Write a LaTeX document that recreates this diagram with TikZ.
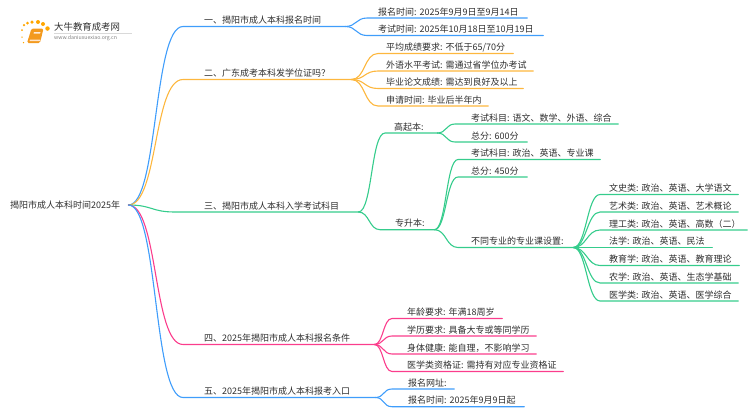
\documentclass[tikz,border=0pt]{standalone}
\usepackage{fontspec}
\setmainfont[WordSpace=0.55]{Noto Sans CJK SC}
\definecolor{bluelink}{HTML}{3F9DFB}
\definecolor{orangelink}{HTML}{FDB73E}
\definecolor{greenlink}{HTML}{35CC8C}
\definecolor{pinklink}{HTML}{FB3D8C}
\definecolor{inktext}{HTML}{2E2E2E}
\definecolor{bookorange}{HTML}{F39A1E}
\tikzset{
    leaf/.style={anchor=south west, inner sep=0pt, align=left, text height=9pt, text depth=2.6pt, text=inktext, font=\fontsize{9}{10}\selectfont\frenchspacing},
    span/.style={text width=#1},
    pad/.style={execute at begin node={\hspace*{#1}}},
    link/.style={draw=#1, line width=1.1pt, line cap=round},
    spot/.style={fill=orange!70!yellow, circle, inner sep=0pt, minimum size=#1},
}
\begin{document}
\begin{tikzpicture}[x=1pt, y=-1pt]
    \useasboundingbox (0,0) rectangle (750,410);

    % logo
    \foreach \px/\py/\ps in {22/37/1.5pt, 23.5/42.5/1.5pt, 22/30/2pt, 24/25/2.5pt, 27.5/23/3pt, 32/22/3.5pt, 38/22/4pt, 43/24/4pt, 47.5/28.5/4.5pt}
        \node[spot=\ps] at (\px,\py) {};
    \fill[bookorange, rounded corners=1.5pt] (31.5,28.5) -- (43.5,28.5) -- (40,43) -- (27,43) -- cycle;
    \fill[white!80!orange] (30,39.5) -- (40.5,39.5) -- (40.2,41) -- (29.6,41) -- cycle;
    \fill[white!85!orange] (34,32) -- (40.5,32) -- (40.1,33.5) -- (33.6,33.5) -- cycle;
    \node[anchor=west, inner sep=0pt, text=inktext, font=\fontsize{9.4}{10}\selectfont] (logotitle) at (54,27) {大牛教育成考网};
    \node[anchor=west, inner sep=0pt, text=gray, font=\fontsize{5.2}{6}\selectfont] (logourl) at (54,38.5) {www.daniuxuexiao.org.cn};
    \draw[black!15, line width=0.5pt] (54,33) -- (132,33);

    % root
    \node[leaf, anchor=west, span=118pt] (root) at (10,205) {揭阳市成人本科时间2025年};

    % first level
    \node[leaf, span=162pt, pad=21pt] (one) at (183,26.5) {一、揭阳市成人本科报名时间};
    \node[leaf, span=168pt, pad=21pt] (two) at (183,79.5) {二、广东成考本科发学位证吗？};
    \node[leaf, span=183pt, pad=29pt] (three) at (175,212) {三、揭阳市成人本科入学考试科目};
    \node[leaf, span=191pt, pad=21pt] (four) at (183,344.5) {四、2025年揭阳市成人本科报名条件};
    \node[leaf, span=192pt, pad=21pt] (five) at (183,397.5) {五、2025年揭阳市成人本科报考入口};

    % one
    \node[leaf, span=160pt, pad=11pt] (onea) at (367,18) {报名时间: 2025年9月9日至9月14日};
    \node[leaf, span=176pt, pad=11pt] (oneb) at (367,35.5) {考试时间: 2025年10月18日至10月19日};

    % two
    \node[leaf, span=135pt, pad=8pt] (twoa) at (378,53.5) {平均成绩要求: 不低于65/70分};
    \node[leaf, span=155pt, pad=8pt] (twob) at (378,71) {外语水平考试: 需通过省学位办考试};
    \node[leaf, span=145pt, pad=8pt] (twoc) at (378,88.5) {毕业论文成绩: 需达到良好及以上};
    \node[leaf, span=110pt, pad=8pt] (twod) at (378,106) {申请时间: 毕业后半年内};

    % three
    \node[leaf, span=52pt, pad=9pt] (high) at (385,133) {高起本:};
    \node[leaf, span=163pt, pad=16pt] (higha) at (455,124) {考试科目: 语文、数学、外语、综合};
    \node[leaf, span=72pt, pad=16pt] (highb) at (455,142) {总分: 600分};
    \node[leaf, span=54pt, pad=15pt] (up) at (380,229.7) {专升本:};
    \node[leaf, span=142pt, pad=13pt] (upa) at (458,159.5) {考试科目: 政治、英语、专业课};
    \node[leaf, span=69pt, pad=13pt] (upb) at (458,177) {总分: 450分};
    \node[leaf, span=115pt, pad=13pt] (upc) at (458,247.5) {不同专业的专业课设置:};

    \node[leaf, span=138pt, pad=9pt] (suba) at (600,194.5) {文史类: 政治、英语、大学语文};
    \node[leaf, span=138pt, pad=9pt] (subb) at (600,212) {艺术类: 政治、英语、艺术概论};
    \node[leaf, span=147pt, pad=9pt] (subc) at (600,230) {理工类: 政治、英语、高数（二）};
    \node[leaf, span=112pt, pad=9pt] (subd) at (600,247.5) {法学: 政治、英语、民法};
    \node[leaf, span=139pt, pad=9pt] (sube) at (600,265.5) {教育学: 政治、英语、教育理论};
    \node[leaf, span=138pt, pad=9pt] (subf) at (600,283) {农学: 政治、英语、生态学基础};
    \node[leaf, span=138pt, pad=9pt] (subg) at (600,301) {医学类: 政治、英语、医学综合};

    % four
    \node[leaf, span=110pt, pad=15pt] (foura) at (392,318.5) {年龄要求: 年满18周岁};
    \node[leaf, span=144pt, pad=15pt] (fourb) at (392,336) {学历要求: 具备大专或等同学历};
    \node[leaf, span=144pt, pad=15pt] (fourc) at (392,354) {身体健康: 能自理，不影响学习};
    \node[leaf, span=171pt, pad=15pt] (fourd) at (392,371.5) {医学类资格证: 需持有对应专业资格证};

    % five
    \node[leaf, span=62pt, pad=16pt] (fivea) at (392,389) {报名网址:};
    \node[leaf, span=132pt, pad=16pt] (fiveb) at (392,406.7) {报名时间: 2025年9月9日起};

    % links from the root
    \draw[link=bluelink] (root.east) .. controls +(30,0) and +(-30,0) .. (one.south west) -- (one.south east);
    \draw[link=orangelink] (root.east) .. controls +(30,0) and +(-30,0) .. (two.south west) -- (two.south east);
    \draw[link=greenlink] (root.east) .. controls +(24,0) and +(-24,0) .. (three.south west) -- (three.south east);
    \draw[link=pinklink] (root.east) .. controls +(30,0) and +(-30,0) .. (four.south west) -- (four.south east);
    \draw[link=bluelink] (root.east) .. controls +(30,0) and +(-30,0) .. (five.south west) -- (five.south east);

    % links of one
    \draw[link=bluelink] (one.south east) .. controls +(11,0) and +(-11,0) .. (onea.south west) -- (onea.south east);
    \draw[link=bluelink] (one.south east) .. controls +(11,0) and +(-11,0) .. (oneb.south west) -- (oneb.south east);

    % links of two
    \draw[link=orangelink] (two.south east) .. controls +(14,0) and +(-14,0) .. (twoa.south west) -- (twoa.south east);
    \draw[link=orangelink] (two.south east) .. controls +(14,0) and +(-14,0) .. (twob.south west) -- (twob.south east);
    \draw[link=orangelink] (two.south east) .. controls +(14,0) and +(-14,0) .. (twoc.south west) -- (twoc.south east);
    \draw[link=orangelink] (two.south east) .. controls +(14,0) and +(-14,0) .. (twod.south west) -- (twod.south east);

    % links of three
    \draw[link=greenlink] (three.south east) .. controls +(14,0) and +(-14,0) .. (high.south west) -- (high.south east);
    \draw[link=greenlink] (three.south east) .. controls +(11,0) and +(-11,0) .. (up.south west) -- (up.south east);
    \draw[link=greenlink] (high.south east) .. controls +(9,0) and +(-9,0) .. (higha.south west) -- (higha.south east);
    \draw[link=greenlink] (high.south east) .. controls +(9,0) and +(-9,0) .. (highb.south west) -- (highb.south east);
    \draw[link=greenlink] (up.south east) .. controls +(12,0) and +(-12,0) .. (upa.south west) -- (upa.south east);
    \draw[link=greenlink] (up.south east) .. controls +(12,0) and +(-12,0) .. (upb.south west) -- (upb.south east);
    \draw[link=greenlink] (up.south east) .. controls +(12,0) and +(-12,0) .. (upc.south west) -- (upc.south east);
    \draw[link=greenlink] (upc.south east) .. controls +(13,0) and +(-13,0) .. (suba.south west) -- (suba.south east);
    \draw[link=greenlink] (upc.south east) .. controls +(13,0) and +(-13,0) .. (subb.south west) -- (subb.south east);
    \draw[link=greenlink] (upc.south east) .. controls +(13,0) and +(-13,0) .. (subc.south west) -- (subc.south east);
    \draw[link=greenlink] (upc.south east) -- (subd.south west) -- (subd.south east);
    \draw[link=greenlink] (upc.south east) .. controls +(13,0) and +(-13,0) .. (sube.south west) -- (sube.south east);
    \draw[link=greenlink] (upc.south east) .. controls +(13,0) and +(-13,0) .. (subf.south west) -- (subf.south east);
    \draw[link=greenlink] (upc.south east) .. controls +(13,0) and +(-13,0) .. (subg.south west) -- (subg.south east);

    % links of four
    \draw[link=pinklink] (four.south east) .. controls +(9,0) and +(-9,0) .. (foura.south west) -- (foura.south east);
    \draw[link=pinklink] (four.south east) .. controls +(9,0) and +(-9,0) .. (fourb.south west) -- (fourb.south east);
    \draw[link=pinklink] (four.south east) .. controls +(9,0) and +(-9,0) .. (fourc.south west) -- (fourc.south east);
    \draw[link=pinklink] (four.south east) .. controls +(9,0) and +(-9,0) .. (fourd.south west) -- (fourd.south east);

    % links of five
    \draw[link=bluelink] (five.south east) .. controls +(9,0) and +(-9,0) .. (fivea.south west) -- (fivea.south east);
    \draw[link=bluelink] (five.south east) .. controls +(9,0) and +(-9,0) .. (fiveb.south west) -- (fiveb.south east);
\end{tikzpicture}
\end{document}
